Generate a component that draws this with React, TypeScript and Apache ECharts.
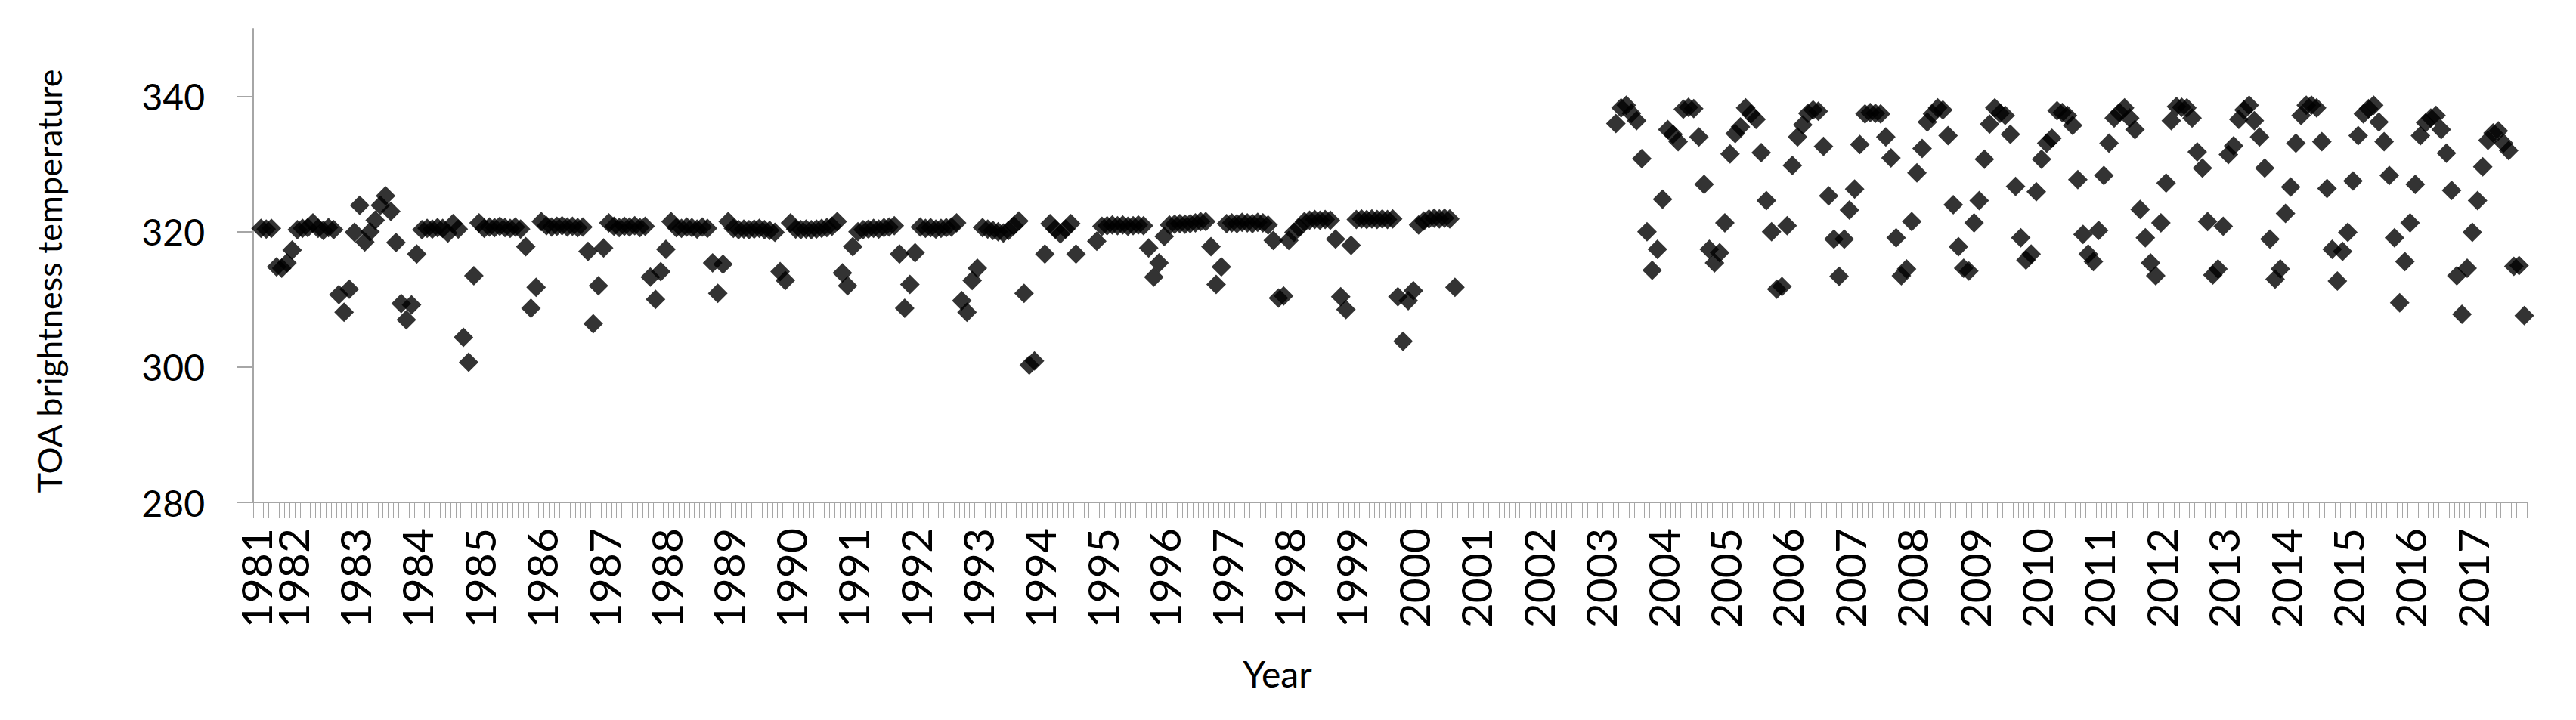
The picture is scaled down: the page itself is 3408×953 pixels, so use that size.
import React, { useEffect, useRef } from "react";
import * as echarts from "echarts";

// Monthly categories: Jun 1981 .. Nov 2017
const firstYear = 1981;
const firstMonth = 6;
const lastYear = 2017;
const lastMonth = 11;
const categories: string[] = [];
for (let y = firstYear; y <= lastYear; y++) {
  for (let m = 1; m <= 12; m++) {
    if (y === firstYear && m < firstMonth) continue;
    if (y === lastYear && m > lastMonth) continue;
    categories.push(`${y}-${String(m).padStart(2, "0")}`);
  }
}

// TOA brightness temperature, one value per month (null = no data)
const t1981 = [null, 320.5, 320.4, 320.5, 314.8, 314.6, 315.4];
const t1982 = [317.3, 320.3, 320.5, 320.6, 321.3, 320.5, 320.2, 320.6, 320.3, 310.7, 308.1, 311.5];
const t1983 = [319.9, 323.9, 318.5, 320.0, 321.7, 323.9, 325.3, 323.0, 318.4, 309.4, 307.0, 309.2];
const t1984 = [316.7, 320.3, 320.5, 320.4, 320.6, 320.5, 319.8, 321.2, 320.4, 304.4, 300.7, 313.5];
const t1985 = [321.3, 320.5, 320.7, 320.6, 320.8, 320.6, 320.5, 320.7, 320.4, 317.8, 308.7, 311.8];
const t1986 = [321.5, 320.9, 320.7, 320.8, 320.9, 320.7, 320.8, 320.6, 320.7, 317.1, 306.4, 312.0];
const t1987 = [317.6, 321.3, 320.8, 320.6, 320.8, 320.7, 320.9, 320.6, 320.8, 313.3, 310.0, 314.1];
const t1988 = [317.4, 321.5, 320.6, 320.5, 320.7, 320.6, 320.4, 320.7, 320.5, 315.4, 310.9, 315.2];
const t1989 = [321.5, 320.5, 320.3, 320.4, 320.3, 320.4, 320.5, 320.3, 320.2, 319.9, 314.1, 312.8];
const t1990 = [321.3, 320.4, 320.3, 320.4, 320.3, 320.4, 320.5, 320.6, 320.8, 321.5, 313.9, 312.0];
const t1991 = [317.8, 320.0, 320.3, 320.4, 320.5, 320.4, 320.6, 320.7, 320.9, 316.7, 308.7, 312.2];
const t1992 = [316.9, 320.7, 320.5, 320.6, 320.4, 320.5, 320.6, 320.7, 321.3, 309.8, 308.1, 312.8];
const t1993 = [314.6, 320.6, 320.4, 320.2, 320.0, 319.8, 320.2, 320.9, 321.6, 310.9, 300.3, 300.9];
const t1994 = [null, 316.7, 321.2, 320.4, 319.7, 320.4, 321.2, 316.7, null, null, null, 318.6];
const t1995 = [320.8, 320.9, 321.0, 320.9, 321.0, 320.8, 320.9, 321.0, 320.9, 317.6, 313.3, 315.4];
const t1996 = [319.3, 321.0, 321.1, 321.2, 321.1, 321.2, 321.3, 321.5, 321.5, 317.8, 312.2, 314.8];
const t1997 = [321.2, 321.3, 321.2, 321.4, 321.3, 321.2, 321.4, 321.3, 321.0, 318.7, 310.2, 310.5];
const t1998 = [318.7, 319.9, 320.6, 321.5, 321.7, 321.8, 321.7, 321.8, 321.7, 318.9, 310.4, 308.5];
const t1999 = [318.0, 321.8, 321.9, 321.8, 321.9, 321.8, 321.9, 321.8, 321.9, 310.4, 303.8, 309.8];
const t2000 = [311.3, 321.0, 321.6, 321.9, 322.0, 321.9, 322.0, 321.9, 311.8, null, null, null];
const t2001 = [null, null, null, null, null, null, null, null, null, null, null, null];
const t2002 = [null, null, null, null, null, null, null, null, null, null, null, null];
const t2003 = [null, null, null, 336.0, 338.3, 338.7, 337.5, 336.4, 330.8, 320.0, 314.3, 317.4];
const t2004 = [324.8, 335.1, 334.4, 333.3, 338.1, 338.4, 338.2, 334.0, 327.0, 317.4, 315.4, 316.9];
const t2005 = [321.3, 331.5, 334.5, 335.5, 338.3, 337.4, 336.6, 331.7, 324.6, 320.0, 311.5, 311.9];
const t2006 = [320.9, 329.8, 334.0, 335.8, 337.5, 338.0, 337.8, 332.6, 325.3, 318.9, 313.4, 318.9];
const t2007 = [323.2, 326.3, 332.9, 337.4, 337.6, 337.5, 337.4, 334.0, 330.9, 319.1, 313.5, 314.5];
const t2008 = [321.5, 328.7, 332.3, 336.2, 337.4, 338.3, 338.0, 334.2, 324.0, 317.8, 314.6, 314.2];
const t2009 = [321.3, 324.6, 330.7, 335.9, 338.3, 337.5, 337.2, 334.4, 326.7, 319.1, 315.8, 316.7];
const t2010 = [325.9, 330.7, 333.1, 333.8, 337.9, 337.6, 337.2, 335.7, 327.7, 319.6, 316.7, 315.6];
const t2011 = [320.2, 328.3, 333.1, 336.8, 337.6, 338.3, 336.8, 335.1, 323.3, 319.1, 315.4, 313.5];
const t2012 = [321.3, 327.2, 336.4, 338.5, 338.4, 338.3, 336.8, 331.8, 329.4, 321.5, 313.6, 314.5];
const t2013 = [320.8, 331.4, 332.7, 336.6, 338.0, 338.7, 336.4, 334.0, 329.4, 318.9, 313.0, 314.5];
const t2014 = [322.7, 326.6, 333.1, 337.2, 338.7, 338.7, 338.3, 333.3, 326.4, 317.4, 312.7, 317.1];
const t2015 = [319.9, 327.5, 334.2, 337.4, 338.2, 338.7, 336.2, 333.3, 328.3, 319.1, 309.5, 315.6];
const t2016 = [321.3, 327.0, 334.2, 336.1, 336.8, 337.2, 335.1, 331.6, 326.1, 313.5, 307.8, 314.6];
const t2017 = [319.9, 324.6, 329.6, 333.5, 334.6, 334.9, 333.1, 332.0, 314.9, 315.0, 307.6];

const values: (number | null)[] = [
  ...t1981, ...t1982, ...t1983, ...t1984, ...t1985, ...t1986, ...t1987, ...t1988,
  ...t1989, ...t1990, ...t1991, ...t1992, ...t1993, ...t1994, ...t1995, ...t1996,
  ...t1997, ...t1998, ...t1999, ...t2000, ...t2001, ...t2002, ...t2003, ...t2004,
  ...t2005, ...t2006, ...t2007, ...t2008, ...t2009, ...t2010, ...t2011, ...t2012,
  ...t2013, ...t2014, ...t2015, ...t2016, ...t2017,
];

const yTicks = [280, 300, 320, 340];
const yTitle = "TOA brightness temperature";
const xTitle = "Year";

const FONT = "Lato, 'Open Sans', sans-serif";
const AXIS_GRAY = "#a6a6a6";
const X_LABEL_SIZE = 57;

const yearLabelStyle = {
  formatter: (value: string) => value.slice(0, 4),
  rotate: 90,
  margin: 34,
  color: "#000",
  fontSize: X_LABEL_SIZE,
  fontFamily: FONT,
  hideOverlap: false,
};

export default function App() {
  const ref = useRef<HTMLDivElement>(null);
  useEffect(() => {
    document.body.style.margin = "0";
    if (!ref.current) return;
    const chart = echarts.init(ref.current, null, { renderer: "svg" });
    const data = values
      .map((v, i) => [categories[i], v])
      .filter((d) => d[1] !== null && d[1] !== undefined);
    chart.setOption({
      animation: false,
      backgroundColor: "#ffffff",
      grid: { left: 335, right: 65, top: 38, bottom: 288, containLabel: false },
      xAxis: [
        {
          type: "category",
          data: categories,
          boundaryGap: true,
          axisLine: { show: true, lineStyle: { color: AXIS_GRAY, width: 2 } },
          axisTick: { show: true, interval: 0, length: 20, lineStyle: { color: AXIS_GRAY, width: 1 } },
          axisLabel: {
            ...yearLabelStyle,
            interval: (index: number, value: string) => index > 0 && value.endsWith("-01"),
            showMinLabel: true,
            showMaxLabel: true,
          },
          splitLine: { show: false },
        },
        {
          // first (partial) year label, which sits close to the next one
          type: "category",
          data: categories,
          boundaryGap: true,
          position: "bottom",
          axisLine: { show: false },
          axisTick: { show: false },
          axisLabel: {
            ...yearLabelStyle,
            interval: (index: number) => index === 0,
            showMinLabel: true,
          },
          splitLine: { show: false },
        },
      ],
      yAxis: {
        type: "value",
        min: 280,
        max: 350,
        axisLine: { show: true, lineStyle: { color: AXIS_GRAY, width: 2 } },
        axisTick: { show: true, length: 22, customValues: yTicks, lineStyle: { color: AXIS_GRAY, width: 2 } },
        axisLabel: {
          customValues: yTicks,
          margin: 64,
          color: "#000",
          fontSize: 48,
          fontFamily: FONT,
        },
        splitLine: { show: false },
      },
      graphic: [
        {
          type: "text",
          x: 1690,
          y: 891,
          style: {
            text: xTitle,
            fill: "#000",
            font: `48px ${FONT}`,
            textAlign: "center",
            textVerticalAlign: "middle",
          },
        },
        {
          type: "text",
          x: 65,
          y: 372,
          rotation: Math.PI / 2,
          style: {
            text: yTitle,
            fill: "#000",
            font: `45px ${FONT}`,
            textAlign: "center",
            textVerticalAlign: "middle",
          },
        },
      ],
      series: [
        {
          type: "scatter",
          xAxisIndex: 0,
          symbol: "diamond",
          symbolSize: 26,
          itemStyle: { color: "#000" },
          data,
        },
      ],
    });
    return () => chart.dispose();
  }, []);
  return <div ref={ref} style={{ width: 3408, height: 953 }} />;
}
